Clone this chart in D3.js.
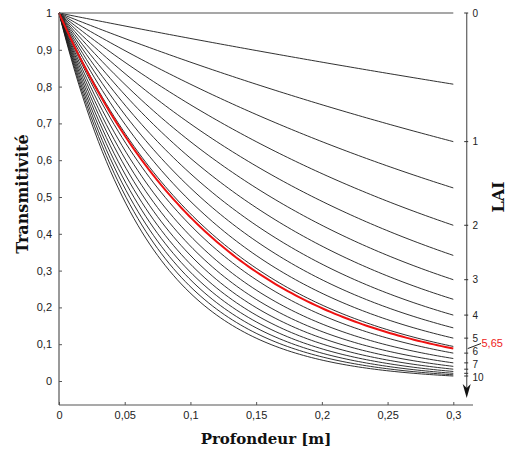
<!DOCTYPE html>
<html><head><meta charset="utf-8">
<script src="https://cdn.jsdelivr.net/npm/d3@7"></script>
<style>body{margin:0;background:#fff}svg{display:block}</style>
</head><body>
<script>
// ---- data ----
const laiValues = [0, 0.5, 1, 1.5, 2, 2.5, 3, 3.5, 4, 4.5, 5, 5.5, 6, 6.5, 7, 7.5, 8, 8.5, 9, 9.5, 10];
const highlightLai = 5.65;
const highlightLabel = "5,65";
const extinctionK = 0.43;      // Beer-Lambert coefficient (per unit LAI over full canopy depth)
const canopyDepth = 0.3;       // m
const xTicks = [0, 0.05, 0.1, 0.15, 0.2, 0.25, 0.3];
const xTickLabels = ["0", "0,05", "0,1", "0,15", "0,2", "0,25", "0,3"];
const yTicks = [0, 0.1, 0.2, 0.3, 0.4, 0.5, 0.6, 0.7, 0.8, 0.9, 1];
const yTickLabels = ["0", "0,1", "0,2", "0,3", "0,4", "0,5", "0,6", "0,7", "0,8", "0,9", "1"];
const laiTicks = [0, 1, 2, 3, 4, 5, 6, 7, 8, 9, 10];
const laiTickLabels = ["0", "1", "2", "3", "4", "5", "6", "7", "", "", "10"];
const laiLabelNudge = [0, 0, 0, 0, 0, 0, -1.2, 1.2, 0, 0, 1.5];

const W = 509, H = 452;
const svg = d3.select("body").append("svg").attr("width", W).attr("height", H);

const x = d3.scaleLinear().domain([0, 0.3]).range([59, 453.3]);
const y = d3.scaleLinear().domain([0, 1]).range([381, 13]);
const transmit = (lai, z) => Math.exp(-extinctionK * lai * z / canopyDepth);

const depthSamples = d3.range(0, 101).map(i => canopyDepth * i / 100);
const line = d3.line().x(d => x(d[0])).y(d => y(d[1]));

const axisColor = "#555";
const tickFont = "Liberation Sans, Arial, sans-serif";

// curves
const g = svg.append("g");
laiValues.forEach(lai => {
  g.append("path")
    .datum(depthSamples.map(z => [z, transmit(lai, z)]))
    .attr("d", line)
    .attr("fill", "none")
    .attr("stroke", lai === 0 ? "#8a8a8a" : "#1a1a1a")
    .attr("stroke-width", lai === 0 ? 1.5 : 0.9);
});
g.append("path")
  .datum(depthSamples.map(z => [z, transmit(highlightLai, z)]))
  .attr("d", line)
  .attr("fill", "none")
  .attr("stroke", "#ee1111")
  .attr("stroke-width", 2);

// left axis
const yAxis = d3.axisLeft(y).tickValues(yTicks).tickFormat((d, i) => yTickLabels[i])
  .tickSizeInner(-3).tickSizeOuter(0).tickPadding(7);
const ya = svg.append("g").attr("transform", "translate(59,0)").call(yAxis);
ya.select(".domain").remove();
ya.selectAll("line").attr("stroke", axisColor);
ya.selectAll("text").attr("font-family", tickFont).attr("font-size", 11).attr("fill", "#222");
svg.append("line").attr("x1", 59).attr("x2", 59).attr("y1", 13).attr("y2", 405)
  .attr("stroke", axisColor).attr("stroke-width", 1.2);

// bottom axis
const xAxis = d3.axisBottom(x).tickValues(xTicks).tickFormat((d, i) => xTickLabels[i])
  .tickSizeInner(-3).tickSizeOuter(0).tickPadding(6);
const xa = svg.append("g").attr("transform", "translate(0,405)").call(xAxis);
xa.select(".domain").remove();
xa.selectAll("line").attr("stroke", axisColor);
xa.selectAll("text").attr("font-family", tickFont).attr("font-size", 11).attr("fill", "#222");
svg.append("line").attr("x1", 59).attr("x2", 473).attr("y1", 405).attr("y2", 405)
  .attr("stroke", axisColor).attr("stroke-width", 1.2);

// right LAI axis
const rx = 466.7;
const laiY = lai => y(transmit(lai, canopyDepth));
svg.append("line").attr("x1", rx).attr("x2", rx).attr("y1", 13).attr("y2", 390)
  .attr("stroke", "#6a6a6a").attr("stroke-width", 1.3);
svg.append("path")
  .attr("d", `M${rx},398 L${rx - 4},384 L${rx},388 L${rx + 4},384 Z`)
  .attr("fill", "#111");
const ra = svg.append("g");
laiTicks.forEach((t, i) => {
  const yy = laiY(t);
  ra.append("line").attr("x1", rx - 2.5).attr("x2", rx + 1.5).attr("y1", yy).attr("y2", yy)
    .attr("stroke", "#333").attr("stroke-width", 1);
  if (laiTickLabels[i]) {
    ra.append("text").attr("x", 472.5).attr("y", yy + laiLabelNudge[i]).attr("dy", "0.35em")
      .attr("font-family", tickFont).attr("font-size", 10).attr("fill", "#222")
      .text(laiTickLabels[i]);
  }
});
// highlight annotation
const hy = laiY(highlightLai);
svg.append("line").attr("x1", rx + 1).attr("y1", hy).attr("x2", 481).attr("y2", 343.5)
  .attr("stroke", "#222").attr("stroke-width", 1);
svg.append("text").attr("x", 481.5).attr("y", 343).attr("dy", "0.35em")
  .attr("font-family", tickFont).attr("font-size", 11).attr("fill", "#ee2222")
  .text(highlightLabel);

// titles
const titleFont = "DejaVu Serif, serif";
svg.append("text").attr("x", 266).attr("y", 444).attr("text-anchor", "middle")
  .attr("font-family", titleFont).attr("font-weight", "bold").attr("font-size", 15)
  .attr("fill", "#111").text("Profondeur [m]");
svg.append("text").attr("transform", "translate(28,194) rotate(-90)").attr("text-anchor", "middle")
  .attr("font-family", titleFont).attr("font-weight", "bold").attr("font-size", 16)
  .attr("fill", "#111").text("Transmitivité");
svg.append("text").attr("transform", "translate(504,197) rotate(-90)").attr("text-anchor", "middle")
  .attr("font-family", titleFont).attr("font-weight", "bold").attr("font-size", 16)
  .attr("fill", "#111").text("LAI");
</script>
</body></html>
